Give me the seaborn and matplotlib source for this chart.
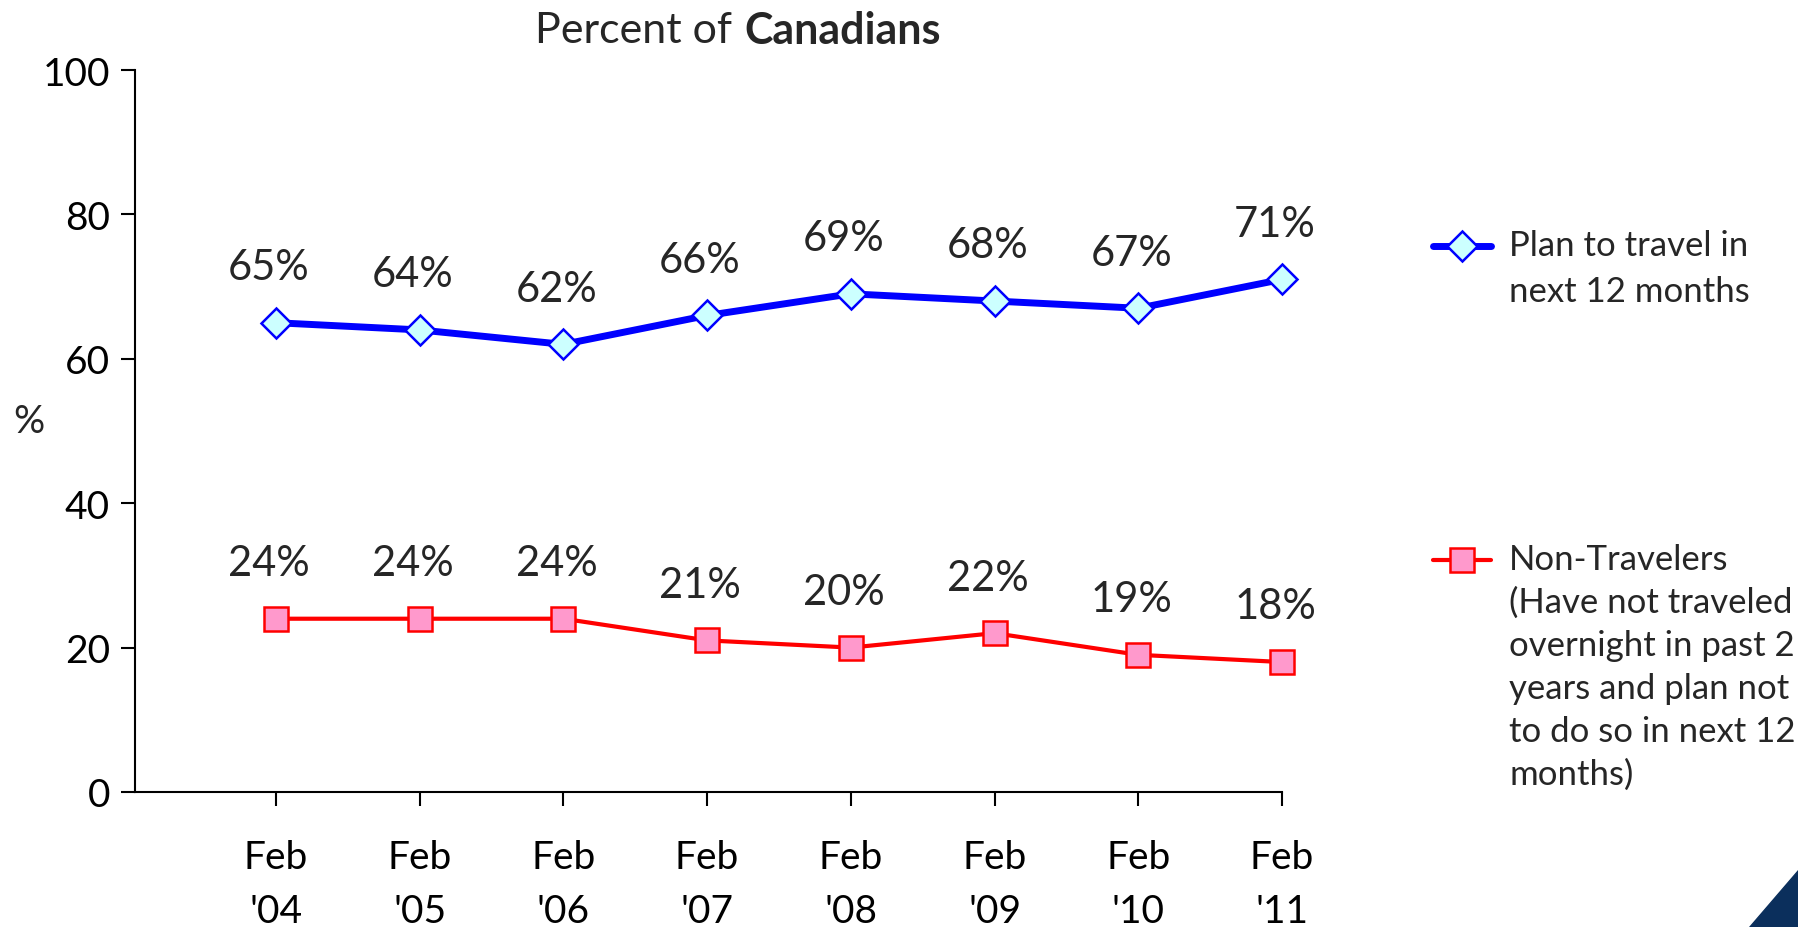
import numpy as np
import pandas as pd
import matplotlib
matplotlib.use("Agg")
import matplotlib.pyplot as plt
from matplotlib.patches import Polygon
from matplotlib.lines import Line2D
import seaborn as sns

categories = ["Feb\n'04", "Feb\n'05", "Feb\n'06", "Feb\n'07", "Feb\n'08", "Feb\n'09", "Feb\n'10", "Feb\n'11"]
plan_to_travel = [65, 64, 62, 66, 69, 68, 67, 71]
non_travelers = [24, 24, 24, 21, 20, 22, 19, 18]
plan_label = "Plan to travel in\nnext 12 months"
non_label = ("Non-Travelers\n(Have not traveled\novernight in past 2\n"
             "years and plan not\nto do so in next 12\nmonths)")
y_ticks = [0, 20, 40, 60, 80, 100]

sns.set_style("white")
FONT = "Lato"
plt.rcParams["font.family"] = [FONT, "DejaVu Sans"]

W, H = 1798, 928
fig = plt.figure(figsize=(W / 100, H / 100), dpi=100)
ax = fig.add_axes([135 / W, 1 - 793 / H, (1282 - 135) / W, (793 - 71) / H])

x = np.arange(len(categories))
df_plan = pd.DataFrame({"x": x, "v": plan_to_travel})
df_non = pd.DataFrame({"x": x, "v": non_travelers})

blue_style = dict(color="#0000FF", linewidth=5, marker="D", markersize=15,
                  markerfacecolor="#CCFFFF", markeredgecolor="#0000FF", markeredgewidth=1.8)
red_style = dict(color="#FF0000", linewidth=3, marker="s", markersize=17,
                 markerfacecolor="#FF99CC", markeredgecolor="#FF0000", markeredgewidth=1.8)

sns.lineplot(data=df_plan, x="x", y="v", ax=ax, **blue_style)
sns.lineplot(data=df_non, x="x", y="v", ax=ax, **red_style)

for series in (plan_to_travel, non_travelers):
    for xi, v in zip(x, series):
        ax.annotate(f"{v}%", (xi, v), xytext=(-5, 40), textcoords="offset points",
                    ha="center", va="center", fontsize=30)

ax.set_xlim(-0.98, 7)
ax.set_ylim(0, 100)
ax.set_yticks(y_ticks)
ax.set_yticklabels([str(t) for t in y_ticks], fontsize=28)
ax.set_xticks(x)
ax.set_xticklabels(categories, fontsize=28, linespacing=1.62)
ax.tick_params(axis="x", direction="out", length=10, width=1.5, pad=24, colors="black", bottom=True)
ax.tick_params(axis="y", direction="out", length=10, width=1.5, pad=8, colors="black", left=True)
ax.set_xlabel("")
ax.set_ylabel("")
for s in ["top", "right"]:
    ax.spines[s].set_visible(False)
for s in ["left", "bottom"]:
    ax.spines[s].set_color("black")
    ax.spines[s].set_linewidth(1.5)
for ln in ax.lines:
    ln.set_clip_on(False)

fig.text(29 / W, 1 - 422 / H, "%", fontsize=28, ha="center", va="center")
t1 = fig.text(535 / W, 1 - 31 / H, "Percent of", fontsize=31, ha="left", va="center")
ax.annotate("Canadians", xy=(1, 0.5), xycoords=t1, xytext=(9, 0), textcoords="offset points",
            fontsize=31, ha="left", va="center", fontweight="bold", annotation_clip=False)

# legend entries
def legend_entry(y_px, style, label, spacing):
    h = Line2D([1433 / W, 1491 / W], [1 - y_px / H, 1 - y_px / H],
               transform=fig.transFigure, **style)
    h.set_markevery([])
    fig.add_artist(h)
    m = Line2D([1462 / W], [1 - y_px / H], transform=fig.transFigure, **style)
    fig.add_artist(m)
    fig.text(1509 / W, 1 - (y_px - 17) / H, label, fontsize=25, ha="left", va="top",
             linespacing=spacing)

legend_entry(247, blue_style, plan_label, 1.52)
legend_entry(561, red_style, non_label, 1.42)

tri = Polygon([[1749 / W, 0], [1, 0], [1, 1 - 871 / H]], closed=True,
              transform=fig.transFigure, color="#0B2F5C", zorder=0)
fig.patches.append(tri)

fig.savefig("out.png", dpi=100, facecolor="white")
